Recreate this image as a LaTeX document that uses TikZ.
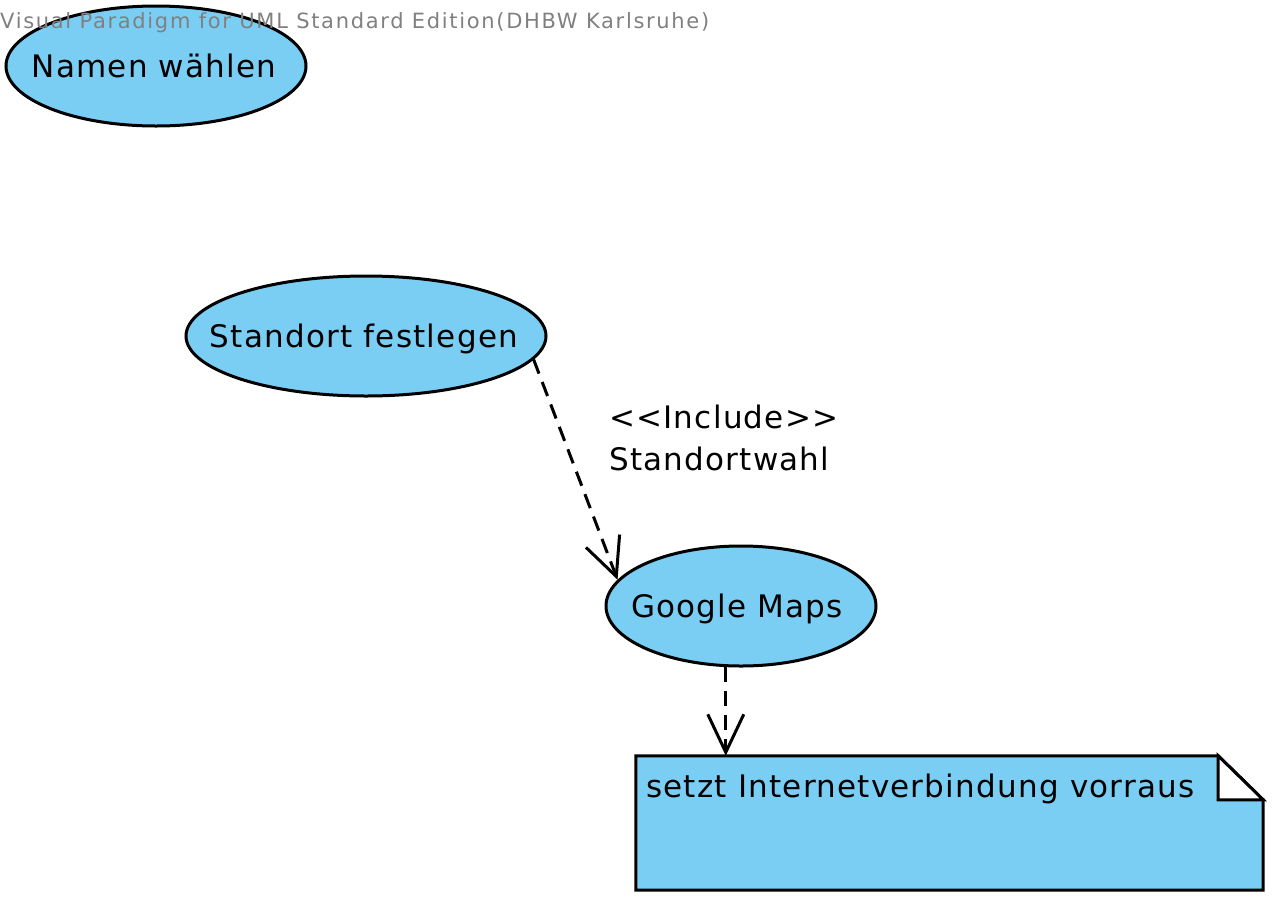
\documentclass[tikz,border=0pt]{standalone}
\usepackage{fontspec}
\newfontfamily\dv{DejaVu Sans}[LetterSpace=4]
\newfontfamily\dvwm{DejaVu Sans}[LetterSpace=8]
\usetikzlibrary{arrows.meta,shapes.geometric,calc}
\definecolor{ucfill}{RGB}{122,206,244}
\definecolor{wmgray}{RGB}{128,128,128}
\begin{document}
\begin{tikzpicture}[x=1pt,y=-1pt,
  uc/.style={ellipse,draw=black,line width=3pt,fill=ucfill,inner sep=0pt},
  uctext/.style={font=\dv\fontsize{31}{38}\selectfont,text height=22.5pt,text depth=0pt,inner sep=0pt},
  lbl/.style={font=\dv\fontsize{31}{38}\selectfont,inner sep=0pt,anchor=base west},
  dep/.style={line width=3pt,dash pattern=on 15pt off 9pt,-{Straight Barb[length=38pt,width=36pt,line width=3pt]}},
  notebox/.style={draw=black,line width=3pt,fill=ucfill,line join=miter}]
\useasboundingbox (0,0) rectangle (1278,906);
% use cases
\node[uc,minimum width=300pt,minimum height=120pt] (nw) at (156,66) {};
\node[uctext] (nwt) at (154,66) {Namen wählen};
\node[uc,minimum width=360pt,minimum height=120pt] (sf) at (366,336) {};
\node[uctext] (sft) at (364,336) {Standort festlegen};
\node[uc,minimum width=270pt,minimum height=120pt] (gm) at (741,606) {};
\node[uctext] (gmt) at (737,606) {Google Maps};
% note
\node[minimum width=627pt,minimum height=134pt,inner sep=0pt] (note) at (949.5,823) {};
\path[notebox] (note.north west) -- ($(note.north east)+(-45,0)$) -- ($(note.north east)+(0,44)$) -- (note.south east) -- (note.south west) -- cycle;
\path[draw=black,fill=white,line width=3pt,line join=miter] ($(note.north east)+(-45,0)$) -- ($(note.north east)+(0,44)$) -- ($(note.north east)+(-45,44)$) -- cycle;
\node[lbl] (notet) at (646,797) {setzt Internetverbindung vorraus};
% dependencies
\draw[dep] (sf.-8) -- (gm.168);
\draw[dep] (gm.-104) -- (gm.-104 |- note.north);
\node[lbl] (inc) at (609,428) {<{}<Include>{}>};
\node[lbl] (std) at (609,470) {Standortwahl};
% watermark
\node[font=\dvwm\fontsize{21}{25}\selectfont,text=wmgray,inner sep=0pt,anchor=base west] (wm) at (0,28) {Visual Paradigm for UML Standard Edition(DHBW Karlsruhe)};
\end{tikzpicture}
\end{document}
